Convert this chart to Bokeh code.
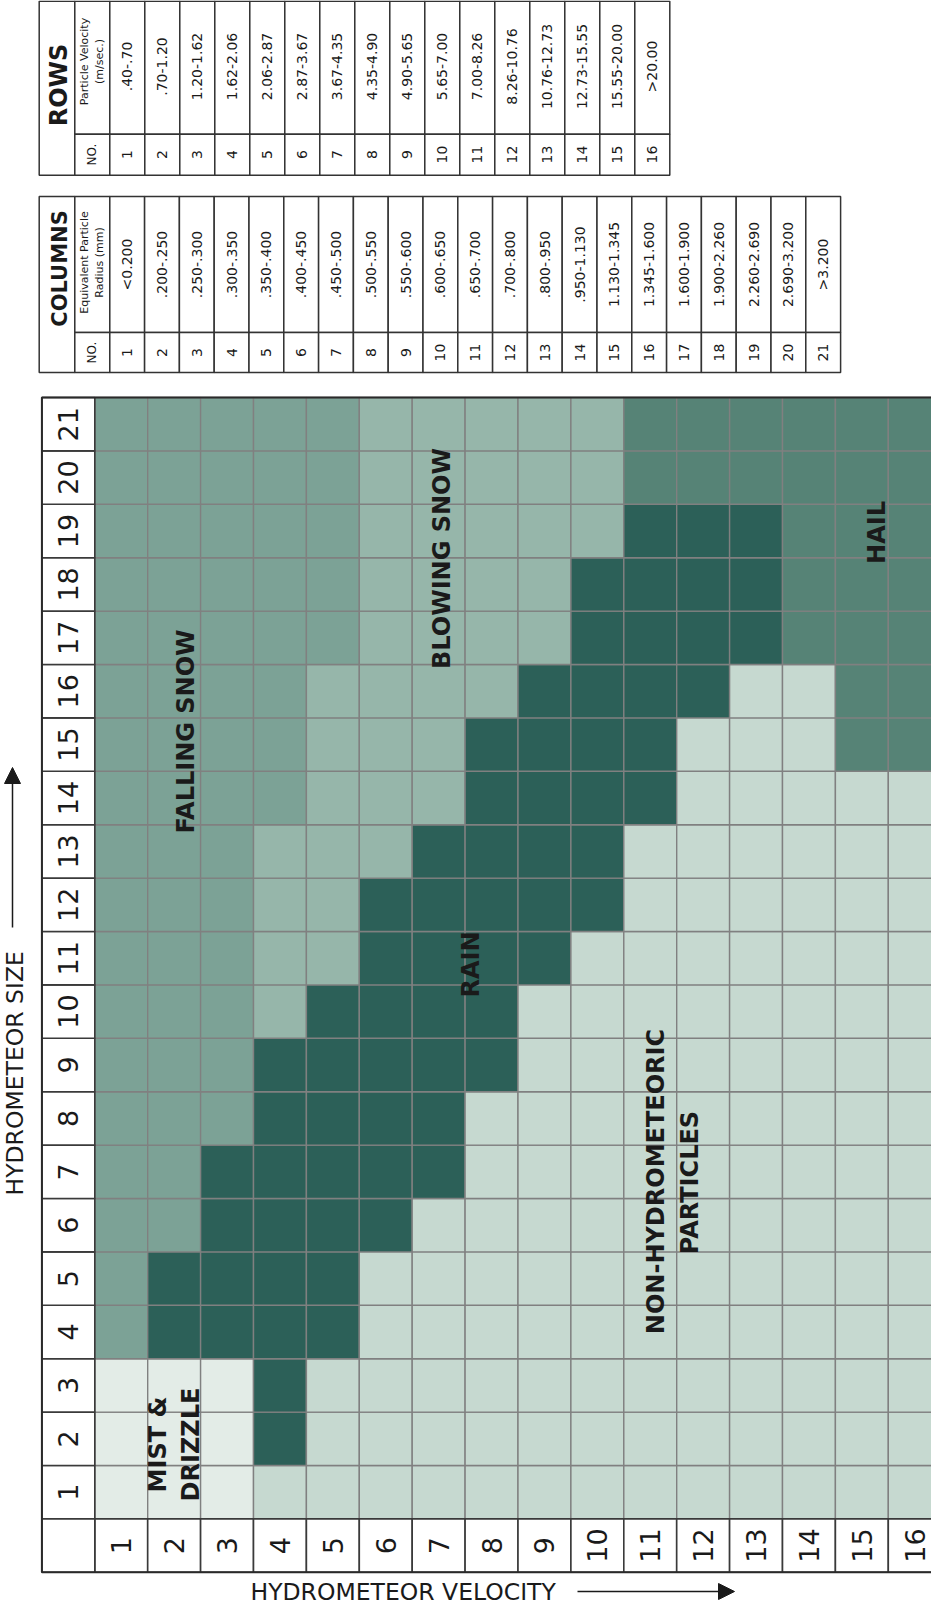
import math
from bokeh.plotting import figure
from bokeh.models import ColumnDataSource, Range1d, Arrow, NormalHead, CategoricalColorMapper
from bokeh.core.properties import value
from bokeh.embed import file_html
from bokeh.resources import INLINE

# ---------------- data ----------------
row_numbers = list(range(1, 17))
row_velocity = [".40-.70", ".70-1.20", "1.20-1.62", "1.62-2.06", "2.06-2.87", "2.87-3.67",
                "3.67-4.35", "4.35-4.90", "4.90-5.65", "5.65-7.00", "7.00-8.26", "8.26-10.76",
                "10.76-12.73", "12.73-15.55", "15.55-20.00", ">20.00"]
column_numbers = list(range(1, 22))
column_radius = ["<0.200", ".200-.250", ".250-.300", ".300-.350", ".350-.400", ".400-.450",
                 ".450-.500", ".500-.550", ".550-.600", ".600-.650", ".650-.700", ".700-.800",
                 ".800-.950", ".950-1.130", "1.130-1.345", "1.345-1.600", "1.600-1.900",
                 "1.900-2.260", "2.260-2.690", "2.690-3.200", ">3.200"]

category_codes = ["M", "N", "F", "B", "R", "H"]
category_names = ["MIST & DRIZZLE", "NON-HYDROMETEORIC PARTICLES", "FALLING SNOW",
                  "BLOWING SNOW", "RAIN", "HAIL"]
category_colors = ["#e3ece7", "#c6d9d0", "#7ca296", "#96b6aa", "#2c6058", "#568376"]

# one string per size column (1..21); character k = velocity row k+1
size_columns = [
    "MMMNNNNNNNNNNNNN",  # 1
    "MMMRNNNNNNNNNNNN",  # 2
    "MMMRNNNNNNNNNNNN",  # 3
    "FRRRRNNNNNNNNNNN",  # 4
    "FRRRRNNNNNNNNNNN",  # 5
    "FFRRRRNNNNNNNNNN",  # 6
    "FFRRRRRNNNNNNNNN",  # 7
    "FFFRRRRNNNNNNNNN",  # 8
    "FFFRRRRRNNNNNNNN",  # 9
    "FFFBRRRRNNNNNNNN",  # 10
    "FFFBBRRRRNNNNNNN",  # 11
    "FFFBBRRRRRNNNNNN",  # 12
    "FFFBBBRRRRNNNNNN",  # 13
    "FFFFBBBRRRRNNNNN",  # 14
    "FFFFBBBRRRRNNNHH",  # 15
    "FFFFBBBBRRRRNNHH",  # 16
    "FFFFFBBBBRRRRHHH",  # 17
    "FFFFFBBBBRRRRHHH",  # 18
    "FFFFFBBBBBRRRHHH",  # 19
    "FFFFFBBBBBHHHHHH",  # 20
    "FFFFFBBBBBHHHHHH",  # 21
]

x_title = "HYDROMETEOR VELOCITY"
y_title = "HYDROMETEOR SIZE"

# ---------------- layout helpers ----------------
W, H = 931, 1608
MARGIN = 8
CW = 52.9        # px per grid cell, horizontal
CH = 53.4        # px per grid cell, vertical
GX0 = 102.3      # px where velocity row 1 starts
GY0 = 405.0      # px top of size column 21


def dx(px):
    return 0.5 + (px - GX0) / CW


def dy(py):
    return 21.5 - (py - GY0) / CH


FONT = value("DejaVu Sans")
INK = "#1a1a1a"
ROT = math.pi / 2

p = figure(width=W, height=H,
           x_range=Range1d(dx(MARGIN), dx(MARGIN + W)),
           y_range=Range1d(dy(MARGIN + H), dy(MARGIN)),
           x_axis_type=None, y_axis_type=None,
           output_backend="svg", toolbar_location=None, min_border=0)
p.outline_line_color = None
p.background_fill_color = "white"
p.border_fill_color = "white"

# ---------------- grid cells ----------------
cx, cy, cc = [], [], []
for ci, codes in enumerate(size_columns):
    for ri, ch in enumerate(codes):
        cx.append(row_numbers[ri])
        cy.append(column_numbers[ci])
        cc.append(ch)
src = ColumnDataSource(dict(x=cx, y=cy, cat=cc))
mapper = CategoricalColorMapper(factors=category_codes, palette=category_colors)
p.rect("x", "y", width=1, height=1, source=src,
       fill_color={"field": "cat", "transform": mapper},
       line_color="#808080", line_width=1.4)

# header cells
p.rect(x=[0] * len(column_numbers), y=column_numbers, width=1, height=1,
       fill_color="white", line_color="#3a3a3a", line_width=1.6)
p.rect(x=row_numbers, y=[0] * len(row_numbers), width=1, height=1,
       fill_color="white", line_color="#3a3a3a", line_width=1.6)
p.rect(x=[0], y=[0], width=1, height=1, fill_color="white", line_color="#3a3a3a", line_width=1.6)
p.rect(x=[8], y=[10.5], width=17, height=22, fill_color=None, line_color="#2a2a2a", line_width=2)

p.text(x=[0] * len(column_numbers), y=column_numbers, text=[str(n) for n in column_numbers],
       angle=ROT, text_align="center", text_baseline="middle",
       text_font=FONT, text_font_size="27px", text_color=INK)
p.text(x=row_numbers, y=[0] * len(row_numbers), text=[str(n) for n in row_numbers],
       angle=ROT, text_align="center", text_baseline="middle",
       text_font=FONT, text_font_size="27px", text_color=INK)

# ---------------- region labels ----------------
lab_text = ["FALLING SNOW", "BLOWING SNOW", "RAIN", "MIST &", "DRIZZLE",
            "NON-HYDROMETEORIC", "PARTICLES", "HAIL"]
lab_px = [193, 449, 478, 165.5, 198.5, 663.7, 697, 884]
lab_py = [739, 566, 972, 1452, 1452, 1189, 1190, 540]
p.text(x=[dx(v) for v in lab_px], y=[dy(v) for v in lab_py], text=lab_text,
       angle=ROT, text_align="center", text_baseline="middle",
       text_font=FONT, text_font_style="bold", text_font_size="24px", text_color=INK)


# ---------------- tables ----------------
def draw_table(left, hdr_w, sub_w, ent_w, top, mid, bottom, numbers, values,
               title, title_size, title_px, title_py, sub_lines, sub_py, val_py, num_py):
    line = dict(fill_color="white", line_color="#333333", line_width=1.5)
    # title cell (full height)
    p.quad(left=[dx(left)], right=[dx(left + hdr_w)], top=[dy(top)], bottom=[dy(bottom)], **line)
    x0 = left + hdr_w
    # sub header column + entries
    lefts = [x0] + [x0 + sub_w + ent_w * i for i in range(len(numbers))]
    rights = [x0 + sub_w] + [x0 + sub_w + ent_w * (i + 1) for i in range(len(numbers))]
    p.quad(left=[dx(v) for v in lefts], right=[dx(v) for v in rights],
           top=[dy(top)] * len(lefts), bottom=[dy(mid)] * len(lefts), **line)
    p.quad(left=[dx(v) for v in lefts], right=[dx(v) for v in rights],
           top=[dy(mid)] * len(lefts), bottom=[dy(bottom)] * len(lefts), **line)
    centers = [(a + b) / 2 for a, b in zip(lefts, rights)]
    # title
    p.text(x=[dx(title_px)], y=[dy(title_py)], text=[title], angle=ROT,
           text_align="center", text_baseline="middle", text_font=FONT,
           text_font_style="bold", text_font_size=title_size, text_color=INK)
    # sub header
    sc = centers[0]
    p.text(x=[dx(sc - 7.5), dx(sc + 7.5)], y=[dy(sub_py)] * 2, text=sub_lines, angle=ROT,
           text_align="center", text_baseline="middle", text_font=FONT,
           text_font_size="11px", text_color=INK)
    p.text(x=[dx(sc)], y=[dy(num_py)], text=["NO."], angle=ROT,
           text_align="center", text_baseline="middle", text_font=FONT,
           text_font_size="12px", text_color=INK)
    # values and numbers
    p.text(x=[dx(v) for v in centers[1:]], y=[dy(val_py)] * len(values), text=values, angle=ROT,
           text_align="center", text_baseline="middle", text_font=FONT,
           text_font_size="14px", text_color=INK)
    p.text(x=[dx(v) for v in centers[1:]], y=[dy(num_py)] * len(numbers),
           text=[str(n) for n in numbers], angle=ROT,
           text_align="center", text_baseline="middle", text_font=FONT,
           text_font_size="14px", text_color=INK)


draw_table(46.7, 35.6, 35.0, 35.0, 8.8, 141.7, 182.7, row_numbers, row_velocity,
           "ROWS", "24px", 66, 92.5, ["Particle Velocity", "(m/sec.)"], 69, 74, 162)
draw_table(46.7, 35.6, 35.0, 34.8, 204, 340, 380, column_numbers, column_radius,
           "COLUMNS", "21px", 67, 276, ["Equivalent Particle", "Radius (mm)"], 270, 272, 360)

# ---------------- axis titles with arrows ----------------
p.text(x=[dx(22)], y=[dy(1203)], text=[y_title], angle=ROT, text_align="left",
       text_baseline="middle", text_font=FONT, text_font_size="23.5px", text_color=INK)
p.add_layout(Arrow(end=NormalHead(size=16, fill_color=INK, line_color=INK),
                   x_start=dx(20), y_start=dy(935), x_end=dx(20), y_end=dy(775),
                   line_color=INK, line_width=1.5))
p.text(x=[dx(258)], y=[dy(1599)], text=[x_title], angle=0, text_align="left",
       text_baseline="middle", text_font=FONT, text_font_size="23.5px", text_color=INK)
p.add_layout(Arrow(end=NormalHead(size=16, fill_color=INK, line_color=INK),
                   x_start=dx(585), y_start=dy(1599), x_end=dx(742), y_end=dy(1599),
                   line_color=INK, line_width=1.5))

open("out.html", "w").write(file_html(p, INLINE))
